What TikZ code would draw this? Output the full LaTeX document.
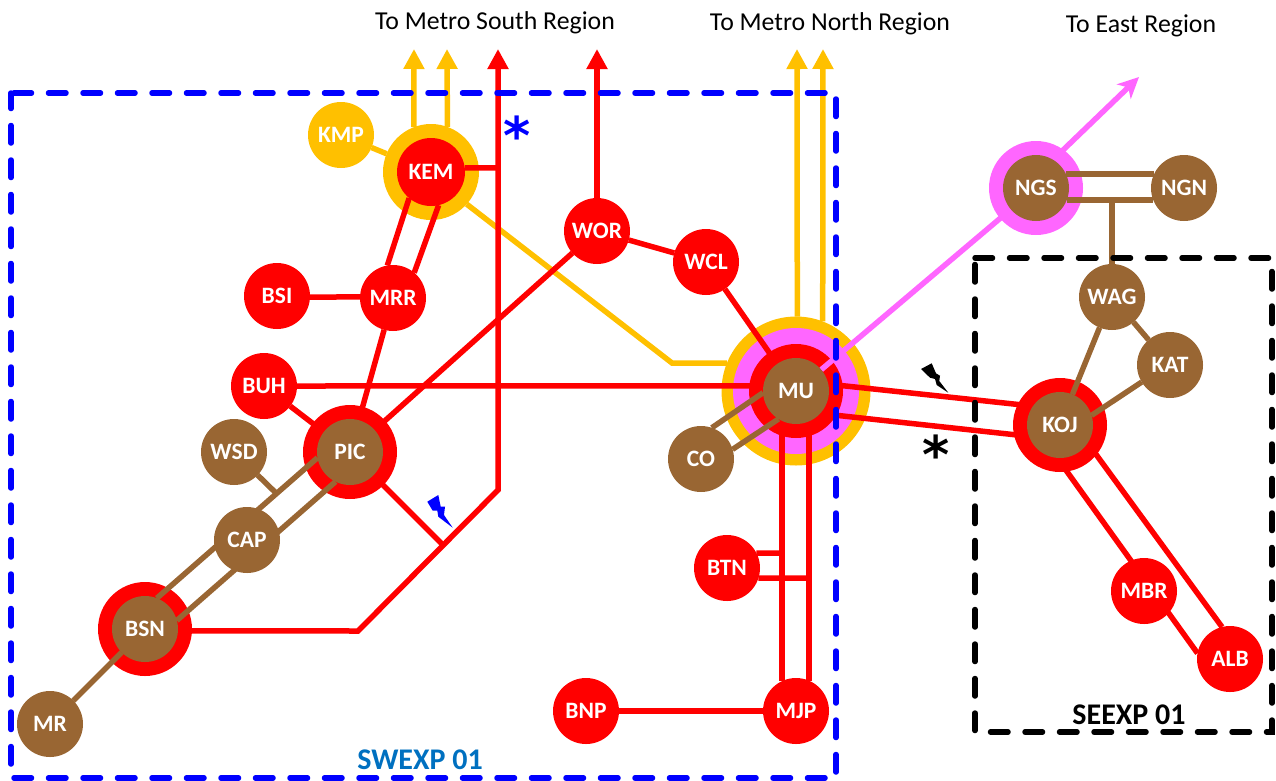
\documentclass[tikz,border=0pt]{standalone}
\usepackage{fontspec}
\usetikzlibrary{arrows.meta}
\setmainfont{Carlito}
\newfontfamily\starfont{DejaVu Sans}
\definecolor{goldline}{HTML}{FFC000}
\definecolor{brownline}{HTML}{996633}
\definecolor{pinkline}{HTML}{FF66FF}
\definecolor{labelblue}{HTML}{0070C0}
\pgfdeclarelayer{rings}
\pgfdeclarelayer{lines}
\pgfsetlayers{rings,lines,main}
\tikzset{
  stn/.style={circle,minimum size=66pt,inner sep=0pt,outer sep=0pt,text=white,
    font=\bfseries\fontsize{23.5}{25}\selectfont},
  redstn/.style={stn,fill=red},
  brownstn/.style={stn,fill=brownline},
  goldstn/.style={stn,fill=goldline},
  ring/.style={circle,inner sep=0pt,outer sep=0pt,minimum size=#1},
  region/.style={line width=5.5pt,line cap=round,dash pattern=on 17.5pt off 17pt},
  redline/.style={draw=red,line width=5.5pt},
  brownline/.style={draw=brownline,line width=5.5pt},
  goldline/.style={draw=goldline,line width=5.5pt},
  pinkline/.style={draw=pinkline,line width=5.5pt},
  uptip/.style={-{Triangle[width=20pt,length=20pt]}},
  heading/.style={font=\fontsize{25.8}{28}\selectfont},
  boxname/.style={font=\bfseries\fontsize{30}{32}\selectfont},
  star/.style={font=\starfont\bfseries\fontsize{52}{52}\selectfont}
}
\begin{document}
\begin{tikzpicture}[x=1pt,y=-1pt]
   \useasboundingbox (0,0) rectangle (1276,780);
   \begin{pgfonlayer}{rings}
     \node[ring=96pt,fill=goldline] (KEMring) at (431,172) {};
     \node[ring=94pt,fill=red] (PICring) at (350,452) {};
     \node[ring=94pt,fill=red] (BSNring) at (145,629) {};
     \node[ring=149pt,fill=goldline] (MUgold) at (796,391) {};
     \node[ring=126pt,fill=pinkline] (MUpink) at (796,391) {};
     \node[ring=94pt,fill=red] (MUring) at (796,391) {};
     \node[ring=94pt,fill=pinkline] (NGSring) at (1036,188) {};
     \node[ring=94pt,fill=red] (KOJring) at (1060,425) {};
   \end{pgfonlayer}
   % stations
   \node[goldstn] (KMP) at (341,135) {KMP};
   \node[redstn,minimum size=68pt] (KEM) at (431,172) {KEM};
   \node[redstn] (MRR) at (393,298) {MRR};
   \node[redstn] (BSI) at (277,296) {BSI};
   \node[redstn] (BUH) at (264,386) {BUH};
   \node[brownstn] (PIC) at (350,452) {PIC};
   \node[brownstn] (WSD) at (234,452) {WSD};
   \node[brownstn] (CAP) at (247,540) {CAP};
   \node[brownstn] (BSN) at (145,629) {BSN};
   \node[brownstn] (MR) at (50,724) {MR};
   \node[redstn] (WOR) at (597,231) {WOR};
   \node[redstn] (WCL) at (706,262) {WCL};
   \node[brownstn] (MU) at (796,391) {MU};
   \node[brownstn] (CO) at (701,459) {CO};
   \node[redstn] (BTN) at (727,568) {BTN};
   \node[redstn] (MJP) at (796,711) {MJP};
   \node[redstn] (BNP) at (586,711) {BNP};
   \node[brownstn] (NGS) at (1036,188) {NGS};
   \node[brownstn] (NGN) at (1184,188) {NGN};
   \node[brownstn] (WAG) at (1112,297) {WAG};
   \node[brownstn] (KAT) at (1170,365) {KAT};
   \node[brownstn] (KOJ) at (1060,425) {KOJ};
   \node[redstn] (MBR) at (1144,591) {MBR};
   \node[redstn] (ALB) at (1230,659) {ALB};
   % free ends and bends
   \coordinate (tipgolda) at (414,49);
   \coordinate (tipgoldb) at (447,49);
   \coordinate (tipsouth) at (498,49);
   \coordinate (tipwor) at (597,49);
   \coordinate (tipmua) at (797,49);
   \coordinate (tipmub) at (823,49);
   \coordinate (tipeast) at (1139,77);
   \coordinate (KEMjoin) at (498,168);
   \coordinate (bendupper) at (498,490);
   \coordinate (bendlower) at (358,631);
   \coordinate (PICjoin) at (442,544);
   \coordinate (KEMbend) at (672,363);
   \coordinate (WSDjoin) at (277,494);
   \coordinate (BTNjoina) at (782,553);
   \coordinate (BTNjoinb) at (808,578);
   \coordinate (WAGjoin) at (1112,200);
   \begin{pgfonlayer}{lines}
     \draw[goldline] (KMP) -- (KEMring);
     \draw[goldline,uptip] (KEMring.111) -- (tipgolda);
     \draw[goldline,uptip] (KEMring.70) -- (tipgoldb);
     \draw[goldline] (KEMring.-42) -- (KEMbend) -- (MUgold.158);
     \draw[goldline,uptip] (MUgold.89) -- (tipmua);
     \draw[goldline,uptip] (MUgold.69) -- (tipmub);
     \draw[redline,uptip] (BSN.-3) -- (bendlower) -- (bendupper) -- (tipsouth);
     \draw[redline] (KEM.7) -- (KEMjoin);
     \draw[redline] (KEM.230) -- (MRR.100);
     \draw[redline] (KEM.283) -- (MRR.50);
     \draw[redline] (BSI.-2) -- (MRR.178);
     \draw[redline] (MRR) -- (PIC);
     \draw[redline] (BUH) -- (PIC);
     \draw[redline] (PIC) -- (PICjoin);
     \draw[redline] (PIC) -- (WOR);
     \draw[redline,uptip] (WOR) -- (tipwor);
     \draw[redline] (WOR) -- (WCL);
     \draw[redline] (WCL) -- (MU);
     \draw[redline] (BUH.east) -- (MU.171);
     \draw[redline] (MU.245) -- (MJP.115);
     \draw[redline] (MU.-67) -- (MJP.67);
     \draw[redline] (BTN.27) -- (BTNjoina);
     \draw[redline] (BTN.-18) -- (BTNjoinb);
     \draw[redline] (BNP) -- (MJP);
     \draw[redline] (MU.12) -- (KOJ.145);
     \draw[redline] (MU.-43) -- (KOJ.200);
     \draw[redline] (KOJ.-33) -- (ALB.104);
     \draw[redline] (KOJ.265) -- (ALB.170);
     \draw[brownline] (WSD) -- (WSDjoin);
     \draw[brownline] (PIC.190) -- (BSN.69);
     \draw[brownline] (PIC.244) -- (BSN.15);
     \draw[brownline] (BSN) -- (MR);
     \draw[brownline] (MU.183) -- (CO.71);
     \draw[brownline] (MU.238) -- (CO.17);
     \draw[brownline] (NGS.25) -- (NGN.155);
     \draw[brownline] (NGS.-21) -- (NGN.201);
     \draw[brownline] (WAG) -- (WAGjoin);
     \draw[brownline] (WAG) -- (KAT);
     \draw[brownline] (WAG) -- (KOJ);
     \draw[brownline] (KOJ.17) -- (KAT.211);
     \draw[pinkline] (MU) -- (NGS);
     \draw[pinkline,-{Stealth[width=20pt,length=21pt,inset=6pt]}] (NGS.59) -- (tipeast);
   \end{pgfonlayer}
   % regions
   \draw[blue,region,dash phase=31.5pt] (11,93) -- (836,93) -- (836,778) -- (11,778) -- cycle;
   \draw[black,region] (975,258) -- (1272,258) -- (1272,732) -- (975,732) -- cycle;
   % faults
   \fill[blue] (427.3,501.7) -- (438.3,495) -- (440.7,506.7) -- (445,506.7) -- (444,515) -- (452.7,527.7)
     -- (438.3,516.7) -- (437.3,510.7) -- (432.7,510.7) -- cycle;
   \fill[black] (921,369) -- (931.7,363.3) -- (936,373.3) -- (940,375.7) -- (939.3,381) -- (948.3,392.7)
     -- (936.7,385) -- (935,379) -- (930,377.7) -- cycle;
   \node[star,text=blue] (stara) at (517,135) {*};
   \node[star,text=black] (starb) at (936,454) {*};
   % region names
   \node[heading] (south) at (495,23) {To Metro South Region};
   \node[heading] (north) at (830,24) {To Metro North Region};
   \node[heading] (east) at (1141,26) {To East Region};
   \node[boxname,text=labelblue] (swexp) at (420,760) {SWEXP 01};
   \node[boxname] (seexp) at (1129,715) {SEEXP 01};
\end{tikzpicture}
\end{document}
